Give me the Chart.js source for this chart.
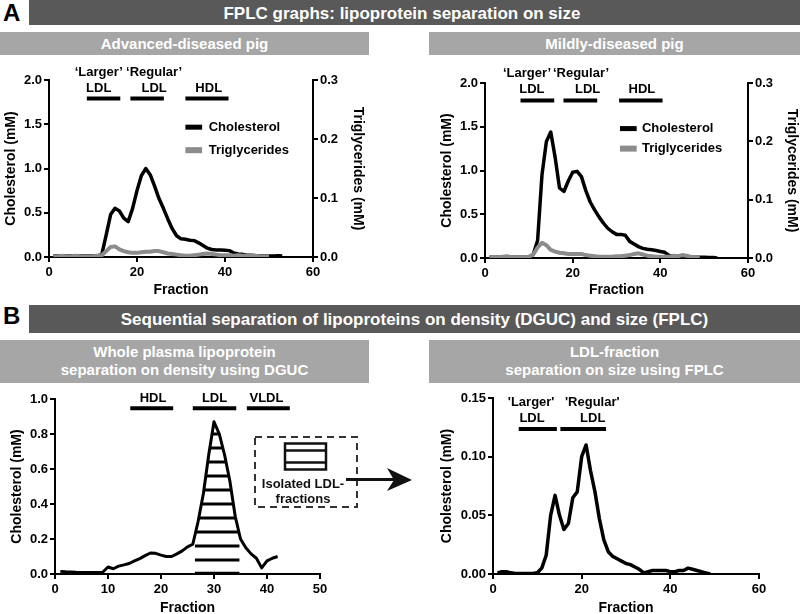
<!DOCTYPE html>
<html>
<head>
<meta charset="utf-8">
<script src="https://cdn.jsdelivr.net/npm/chart.js@4.4.1/dist/chart.umd.min.js"></script>
<style>
  html, body { margin: 0; padding: 0; background: #fff; overflow: hidden; }
  body { width: 800px; height: 614px; position: relative;
         font-family: "Liberation Sans", Arial, Helvetica, sans-serif; font-weight: bold; }
  .abs { position: absolute; }
  .letter { font-size: 24px; line-height: 24px; color: #000; }
  .dark { background: #595959; color: #fff; font-size: 17px; text-align: center; box-sizing: border-box; }
  .light { background: #a6a6a6; color: #fff; font-size: 15px; text-align: center; box-sizing: border-box; }
  canvas { position: absolute; }
  svg { position: absolute; left: 0; top: 0; pointer-events: none; }
</style>
</head>
<body>
<div class="abs letter" style="left:3px;top:1px;">A</div>
<div class="abs dark" style="left:29px;top:0;width:771px;height:25px;line-height:27px;padding-right:25px;">FPLC graphs: lipoprotein separation on size</div>
<div class="abs light" style="left:0;top:32px;width:369px;height:23px;line-height:23px;">Advanced-diseased pig</div>
<div class="abs light" style="left:429px;top:32px;width:371px;height:23px;line-height:23px;">Mildly-diseased pig</div>

<div class="abs letter" style="left:3px;top:304px;">B</div>
<div class="abs dark" style="left:29px;top:305px;width:771px;height:28px;line-height:30px;">Sequential separation of lipoproteins on density (DGUC) and size (FPLC)</div>
<div class="abs light" style="left:0;top:340px;width:369px;height:43px;line-height:18.4px;padding-top:3px;">Whole plasma lipoprotein<br>separation on density using DGUC</div>
<div class="abs light" style="left:429px;top:340px;width:371px;height:43px;line-height:18.4px;padding-top:3px;">LDL-fraction<br>separation on size using FPLC</div>

<canvas id="cA1" width="370" height="245" style="left:0;top:60px;"></canvas>
<canvas id="cA2" width="370" height="245" style="left:430px;top:60px;"></canvas>
<canvas id="cB1" width="430" height="233" style="left:0;top:385px;"></canvas>
<canvas id="cB2" width="370" height="233" style="left:430px;top:385px;"></canvas>

<svg width="800" height="614">
  <rect x="255" y="437" width="102" height="70" fill="none" stroke="#333" stroke-width="2" stroke-dasharray="7 5"/>
  <rect x="285" y="443.5" width="41" height="26" fill="none" stroke="#111" stroke-width="2.5"/>
  <line x1="285" y1="450.5" x2="326" y2="450.5" stroke="#111" stroke-width="2.5"/>
  <line x1="285" y1="462.5" x2="326" y2="462.5" stroke="#111" stroke-width="2.5"/>
  <text x="303" y="488" font-size="13" font-weight="bold" text-anchor="middle" fill="#111">Isolated LDL-</text>
  <text x="303" y="503" font-size="13" font-weight="bold" text-anchor="middle" fill="#111">fractions</text>
  <line x1="346" y1="479.5" x2="396" y2="479.5" stroke="#111" stroke-width="3"/>
  <path d="M412 480 L387 468 L394 480 L387 491 Z" fill="#111"/>
</svg>

<script>
// fraction numbers shared by all curves
const fractions = [1,2,3,4,5,6,7,8,9,10,11,12,13,14,15,16,17,18,19,20,
  21,22,23,24,25,26,27,28,29,30,31,32,33,34,35,36,37,38,39,40,
  41,42,43,44,45,46,47,48,49,50,51,52,53];

// A, advanced-diseased pig (FPLC)
const cholAdv = [0.01,0.01,0.01,0.01,0.01,0.01,0.01,0.01,0.01,0.01,0.01,
  0.03,0.25,0.48,0.55,0.52,0.44,0.40,0.55,0.75,
  0.92,1.00,0.93,0.80,0.66,0.55,0.43,0.32,0.24,0.205,
  0.20,0.19,0.185,0.16,0.13,0.10,0.085,0.08,0.078,0.075,
  0.072,0.045,0.035,0.03,0.02,0.02,0.015,0.01,0.01,0.01,
  0.01,0.015,0.01];
const tgAdv = [0.001,0.001,0.002,0.001,0.001,0.002,0.001,0.001,0.001,0.001,0.002,
  0.003,0.010,0.017,0.018,0.013,0.010,0.008,0.007,0.007,
  0.008,0.009,0.009,0.010,0.010,0.008,0.006,0.005,0.004,0.003,
  0.002,0.002,0.003,0.004,0.005,0.006,0.005,0.004,0.003,0.003,
  0.003,0.002,0.003,0.002,0.002,0.003,0.002,0.001,0.001,0.001];

// A, mildly-diseased pig (FPLC)
const cholMild = [0.01,0.01,0.01,0.01,0.01,0.01,0.01,0.01,0.01,0.01,
  0.04,0.20,0.95,1.33,1.44,1.15,0.80,0.76,0.88,0.98,
  0.99,0.93,0.77,0.64,0.55,0.47,0.40,0.34,0.30,0.27,
  0.27,0.26,0.19,0.16,0.13,0.11,0.10,0.095,0.085,0.075,
  0.065,0.03,0.02,0.02,0.02,0.015,0.01,0.01,0.01,0.01,
  0.005,0.005,0.0];
const tgMild = [0.001,0.001,0.001,0.002,0.003,0.001,0.001,0.001,0.001,0.002,
  0.006,0.018,0.026,0.022,0.014,0.011,0.009,0.008,0.007,0.007,
  0.007,0.007,0.005,0.004,0.003,0.002,0.002,0.002,0.002,0.003,
  0.003,0.004,0.005,0.007,0.008,0.006,0.004,0.003,0.002,0.002,
  0.002,0.002,0.004,0.003,0.005,0.004,0.002,0.001,0.001];

// B, whole plasma DGUC
const cholDguc = [0.015,0.013,0.012,0.010,0.009,0.008,0.008,0.009,0.010,0.040,
  0.030,0.045,0.052,0.060,0.075,0.088,0.105,0.120,0.118,0.108,
  0.100,0.100,0.115,0.132,0.155,0.170,0.30,0.46,0.68,0.87,
  0.80,0.68,0.53,0.33,0.20,0.15,0.115,0.09,0.035,0.075,
  0.09,0.10];
const hatchLevels = [0.005,0.08,0.16,0.24,0.32,0.40,0.48,0.56,0.64,0.72,0.80];
const hatchRange = [26.4, 34.8];

// B, LDL fraction FPLC
const cholLdl = [0.001,0.002,0.002,0.001,0.0005,0.0005,0.0005,0.0005,0.0005,0.001,
  0.005,0.016,0.050,0.067,0.050,0.038,0.043,0.065,0.070,0.100,
  0.110,0.088,0.070,0.047,0.029,0.019,0.015,0.013,0.011,0.009,
  0.008,0.006,0.004,0.001,0.002,0.003,0.003,0.003,0.003,0.002,
  0.002,0.003,0.003,0.005,0.004,0.003,0.002,0.001,0.000];

// range bars [from, to, level] and labels [text, x, y]
const barsAdv = [[8.6,16.2,1.79],[18.5,26.1,1.79],[31,40.8,1.79]];
const labelsAdv = [['\u2018Larger\u2019',11.3,2.08],['LDL',11.3,1.9],['\u2018Regular\u2019',23.9,2.08],['LDL',23.9,1.9],['HDL',36.3,1.9]];
const barsMild = [[8.1,15.8,1.80],[17.9,25.6,1.80],[30.6,40.5,1.80]];
const labelsMild = [['\u2018Larger\u2019',9.6,2.107],['LDL',10.7,1.925],['\u2018Regular\u2019',21.9,2.107],['LDL',23.4,1.925],['HDL',35.8,1.925]];
const barsDguc = [[14.2,22.3,0.947],[26,34.2,0.947],[36.2,44.3,0.947]];
const labelsDguc = [['HDL',18.5,1.004],['LDL',30.1,1.004],['VLDL',39.9,1.004]];
const barsLdl = [[5.8,14.4,0.1236],[15.2,25.5,0.1236]];
const labelsLdl = [["'Larger'",8.6,0.1463],['LDL',8.8,0.133],["'Regular'",22.4,0.1463],['LDL',22.5,0.133]];

const GREY = '#8c8c8c';
const FONT = '"Liberation Sans", Arial, Helvetica, sans-serif';
Chart.defaults.font.family = FONT;
Chart.defaults.color = '#000';
const TICK_FONT = { size: 13, weight: 'bold' };
const TITLE_FONT = { size: 14, weight: 'bold' };

const pts = (ys) => ys.map((y, i) => ({ x: fractions[i], y }));

// x-range where the piecewise-linear curve is at or above level L, inside [lo, hi]
function spanAbove(ys, L, lo, hi) {
  let left = null, right = null;
  for (let i = 0; i < ys.length - 1; i++) {
    const xa = fractions[i], xb = fractions[i + 1], ya = ys[i], yb = ys[i + 1];
    if (xb < lo || xa > hi) continue;
    const a = Math.max(xa, lo), b = Math.min(xb, hi);
    const fa = ya + (yb - ya) * (a - xa) / (xb - xa);
    const fb = ya + (yb - ya) * (b - xa) / (xb - xa);
    if (fa >= L && fb >= L) {
      if (left === null) left = a;
      right = b;
    } else if (fa >= L || fb >= L) {
      const xc = xa + (L - ya) * (xb - xa) / (yb - ya);
      const s = fa >= L ? a : xc, e = fa >= L ? xc : b;
      if (left === null) left = s;
      right = e;
    }
  }
  return left === null ? null : [left, right];
}

function makeAnnot(cfg) {
  return {
    id: 'annot',
    afterDatasetsDraw(chart) {
      const { ctx } = chart;
      const px = v => chart.scales.x.getPixelForValue(v);
      const py = v => chart.scales.y.getPixelForValue(v);
      ctx.save();
      ctx.strokeStyle = '#000';
      ctx.lineCap = 'butt';
      if (cfg.hatch) {
        ctx.lineWidth = 3;
        cfg.hatch.levels.forEach(L => {
          const sp = spanAbove(cfg.hatch.ys, L, cfg.hatch.range[0], cfg.hatch.range[1]);
          if (!sp) return;
          ctx.beginPath();
          ctx.moveTo(px(sp[0]), py(L));
          ctx.lineTo(px(sp[1]), py(L));
          ctx.stroke();
        });
      }
      ctx.lineWidth = 4;
      cfg.bars.forEach(([a, b, y]) => {
        ctx.beginPath();
        ctx.moveTo(px(a), py(y));
        ctx.lineTo(px(b), py(y));
        ctx.stroke();
      });
      ctx.fillStyle = '#000';
      ctx.font = 'bold 13px ' + FONT;
      ctx.textAlign = 'center';
      ctx.textBaseline = 'middle';
      cfg.labels.forEach(([t, x, y]) => ctx.fillText(t, px(x), py(y)));
      if (cfg.legend) {
        const lg = cfg.legend;
        ctx.textAlign = 'left';
        lg.items.forEach(([t, color, h, y]) => {
          ctx.fillStyle = color;
          ctx.fillRect(px(lg.x0), py(y) - h / 2, px(lg.x1) - px(lg.x0), h);
          ctx.fillStyle = '#000';
          ctx.fillText(t, px(lg.tx), py(y));
        });
      }
      ctx.restore();
    }
  };
}

function xAxis(max, step, height, titlePad) {
  return {
    type: 'linear', position: 'bottom', min: 0, max,
    ticks: { stepSize: step, color: '#000', font: TICK_FONT, padding: 3, maxRotation: 0 },
    grid: { drawOnChartArea: false, drawTicks: true, tickLength: 5, tickWidth: 2, tickColor: '#000', lineWidth: 2, color: '#000' },
    border: { display: true, color: '#000', width: 2 },
    title: { display: true, text: 'Fraction', color: '#000', font: TITLE_FONT, padding: { top: 0, bottom: titlePad } },
    afterFit: s => { s.height = height; }
  };
}

function yAxis(position, max, step, digits, width, title, titlePad) {
  return {
    type: 'linear', position, min: 0, max,
    ticks: { stepSize: step, color: '#000', font: TICK_FONT, padding: 2,
             callback: v => Number(v).toFixed(digits) },
    grid: { drawOnChartArea: false, drawTicks: true, tickLength: 5, tickWidth: 2, tickColor: '#000', lineWidth: 2, color: '#000' },
    border: { display: true, color: '#000', width: 2 },
    title: { display: true, text: title, color: '#000', font: TITLE_FONT, padding: { top: titlePad, bottom: 0 } },
    afterFit: s => { s.width = width; }
  };
}

function line(label, ys, color, width, axis, order) {
  return { label, data: pts(ys), borderColor: color, borderWidth: width, pointRadius: 0,
           tension: 0, fill: false, yAxisID: axis, order, borderJoinStyle: 'round' };
}

function baseOptions(padding, scales) {
  return {
    responsive: false, animation: false, devicePixelRatio: 1,
    layout: { padding },
    plugins: { legend: { display: false }, tooltip: { enabled: false } },
    scales
  };
}

// A1: advanced-diseased pig
new Chart(document.getElementById('cA1'), {
  type: 'line',
  data: { datasets: [
    line('Cholesterol', cholAdv, '#000', 3.5, 'y', 1),
    line('Triglycerides', tgAdv, GREY, 4, 'y2', 0)
  ] },
  options: baseOptions({ top: 20, left: 0, right: 0, bottom: 0 }, {
    x: xAxis(60, 20, 48, 6.6),
    y: yAxis('left', 2, 0.5, 1, 49, 'Cholesterol (mM)', 2.6),
    y2: yAxis('right', 0.3, 0.1, 1, 57, 'Triglycerides (mM)', 3.6)
  }),
  plugins: [makeAnnot({ bars: barsAdv, labels: labelsAdv,
    legend: { x0: 31.0, x1: 34.8, tx: 36.3,
      items: [['Cholesterol', '#000', 5, 1.467], ['Triglycerides', GREY, 6, 1.207]] } })]
});

// A2: mildly-diseased pig
new Chart(document.getElementById('cA2'), {
  type: 'line',
  data: { datasets: [
    line('Cholesterol', cholMild, '#000', 3.5, 'y', 1),
    line('Triglycerides', tgMild, GREY, 4, 'y2', 0)
  ] },
  options: baseOptions({ top: 23, left: 0, right: 0, bottom: 0 }, {
    x: xAxis(60, 20, 47, 6.6),
    y: yAxis('left', 2, 0.5, 1, 55, 'Cholesterol (mM)', 8.3),
    y2: yAxis('right', 0.3, 0.1, 1, 52, 'Triglycerides (mM)', 0)
  }),
  plugins: [makeAnnot({ bars: barsMild, labels: labelsMild,
    legend: { x0: 30.8, x1: 34.6, tx: 35.8,
      items: [['Cholesterol', '#000', 5, 1.479], ['Triglycerides', GREY, 6, 1.25]] } })]
});

// B1: whole plasma DGUC
new Chart(document.getElementById('cB1'), {
  type: 'line',
  data: { datasets: [ line('Cholesterol', cholDguc, '#000', 3, 'y', 0) ] },
  options: baseOptions({ top: 14, left: 0, right: 110, bottom: 0 }, {
    x: xAxis(50, 10, 44, 1.3),
    y: yAxis('left', 1, 0.2, 1, 55, 'Cholesterol (mM)', 8.3)
  }),
  plugins: [makeAnnot({ bars: barsDguc, labels: labelsDguc,
    hatch: { ys: cholDguc, levels: hatchLevels, range: hatchRange } })]
});

// B2: LDL fraction FPLC
new Chart(document.getElementById('cB2'), {
  type: 'line',
  data: { datasets: [ line('Cholesterol', cholLdl, '#000', 3.5, 'y', 0) ] },
  options: baseOptions({ top: 13, left: 0, right: 41, bottom: 0 }, {
    x: xAxis(60, 20, 44, 1.3),
    y: yAxis('left', 0.15, 0.05, 2, 63, 'Cholesterol (mM)', 8.3)
  }),
  plugins: [makeAnnot({ bars: barsLdl, labels: labelsLdl })]
});
</script>
</body>
</html>
